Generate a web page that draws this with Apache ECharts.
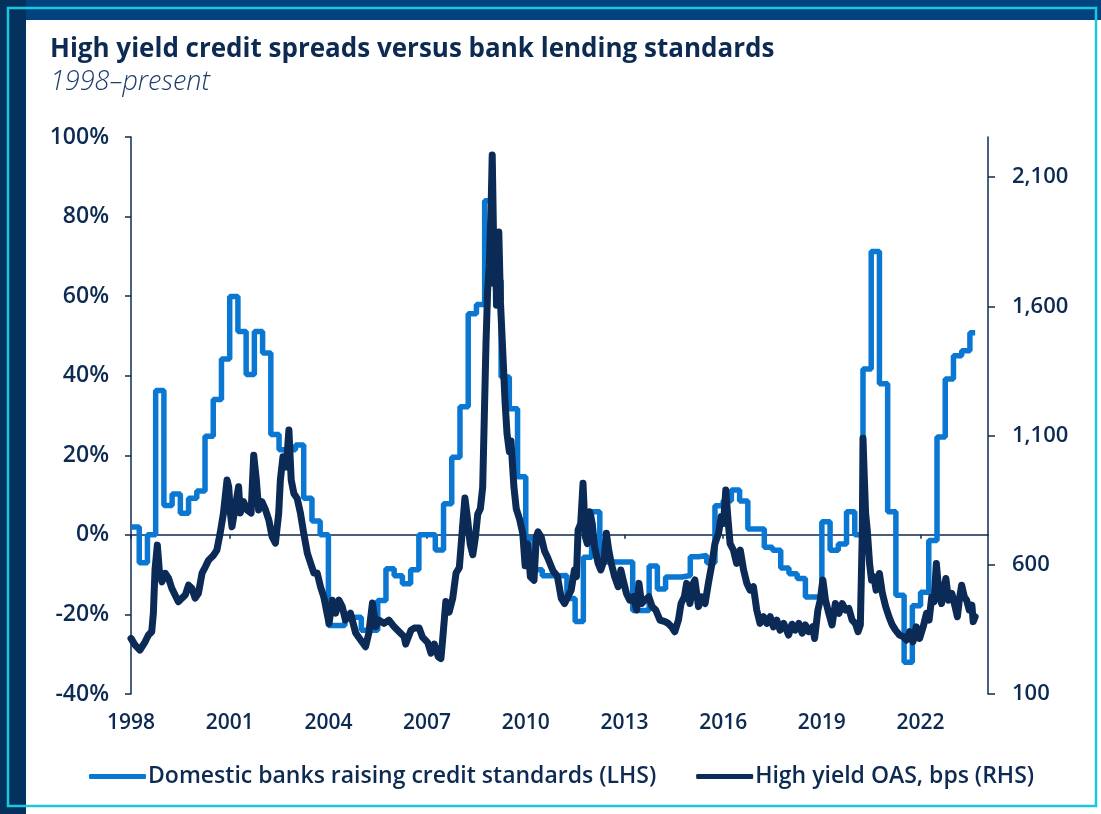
<!DOCTYPE html>
<html>
<head>
<meta charset="utf-8">
<title>High yield credit spreads versus bank lending standards</title>
<script src="https://cdn.jsdelivr.net/npm/echarts@6/dist/echarts.min.js"></script>
<style>
  html, body { margin: 0; padding: 0; background: #fff; }
  #main { width: 1101px; height: 814px; }
</style>
</head>
<body>
<div id="main"></div>
<script>
// tick positions
var yearTicks = [1998, 2001, 2004, 2007, 2010, 2013, 2016, 2019, 2022];
var oasTicks = [100, 600, 1100, 1600, 2100];

// net % of domestic banks tightening C&I standards, quarterly from 1998 Q1
var lendingStart = 1998;
var lendingValues = [
  2, -7, 0, 36.3, 7.4, 10.3, 5.4, 9.2,
  11, 24.8, 34, 44.2, 59.9, 51.1, 40.3, 51.1,
  45.7, 25.2, 21.4, 21.4, 22.6, 9.2, 3.5, 0,
  -22.8, -22.8, -20.7, -20.7, -24, -24, -16.5, -8.5,
  -10.3, -12.3, -8.8, 0, 0, -3.8, 7.8, 19.5,
  32.2, 55.6, 57.9, 84, 64, 39.7, 31.7, 14.6,
  -1, -8.8, -10.3, -10.3, -10.2, -16, -21.8, -5.6,
  5.8, -6.8, -6.8, -6.8, -6.8, -19, -19, -7.8,
  -13.6, -10.6, -10.6, -10.2, -5.5, -5.2, -7, 7.3,
  8.6, 11.3, 8.5, 1.5, 1.5, -3.1, -3.9, -8.3,
  -9.8, -11, -15.6, -15.6, 3.3, -3.9, -2.3, 5.8,
  0, 41.7, 71.2, 38, 5.8, -15.2, -32, -17.8,
  -14.4, -1.4, 24.6, 39.2, 45, 46.3, 50.8
];
var lendingEnd = 2023.66;

// high yield option-adjusted spread, bps
var oasDates = [
  1998.00, 1998.12, 1998.27, 1998.43, 1998.53, 1998.63, 1998.68, 1998.73, 1998.80, 1998.86, 1998.94,
  1999.04, 1999.14, 1999.24, 1999.34, 1999.44, 1999.55, 1999.65, 1999.75, 1999.85, 1999.95,
  2000.05, 2000.16, 2000.26, 2000.36, 2000.51, 2000.61, 2000.71, 2000.81, 2000.92, 2000.97,
  2001.02, 2001.07, 2001.17, 2001.27, 2001.32, 2001.42, 2001.53, 2001.65, 2001.73, 2001.81, 2001.88, 2001.98,
  2002.09, 2002.19, 2002.29, 2002.39, 2002.49, 2002.54, 2002.62, 2002.72, 2002.80, 2002.87, 2002.95,
  2003.05, 2003.15, 2003.25, 2003.36, 2003.46, 2003.56, 2003.66, 2003.76, 2003.86,
  2004.02, 2004.12, 2004.22, 2004.32, 2004.42, 2004.52, 2004.67, 2004.83, 2004.98,
  2005.13, 2005.23, 2005.34, 2005.44, 2005.54, 2005.69, 2005.84,
  2006.00, 2006.15, 2006.30, 2006.35, 2006.51, 2006.61, 2006.76, 2006.86,
  2007.02, 2007.12, 2007.22, 2007.34, 2007.42, 2007.47, 2007.57, 2007.67, 2007.78, 2007.88, 2007.98,
  2008.08, 2008.15, 2008.23, 2008.31, 2008.39, 2008.47, 2008.54, 2008.62, 2008.69, 2008.74,
  2008.79, 2008.84, 2008.89, 2008.95, 2008.98,
  2009.02, 2009.05, 2009.08, 2009.11, 2009.15, 2009.18, 2009.23, 2009.30, 2009.37, 2009.43,
  2009.50, 2009.55, 2009.64, 2009.71, 2009.81, 2009.91, 2009.98,
  2010.06, 2010.14, 2010.25, 2010.32, 2010.37, 2010.47, 2010.57, 2010.67, 2010.83, 2010.96,
  2011.08, 2011.18, 2011.28, 2011.38, 2011.48, 2011.54, 2011.59, 2011.67, 2011.74, 2011.81, 2011.87, 2011.94,
  2012.02, 2012.09, 2012.20, 2012.28, 2012.38, 2012.45, 2012.52, 2012.60, 2012.70, 2012.81, 2012.89, 2012.96,
  2013.06, 2013.16, 2013.27, 2013.37, 2013.44, 2013.52, 2013.62, 2013.74, 2013.84, 2013.95,
  2014.08, 2014.23, 2014.33, 2014.43, 2014.53, 2014.64, 2014.72, 2014.82, 2014.89, 2014.99,
  2015.09, 2015.14, 2015.25, 2015.35, 2015.45, 2015.55, 2015.66, 2015.75, 2015.86, 2015.94,
  2016.01, 2016.08, 2016.14, 2016.21, 2016.31, 2016.41, 2016.52, 2016.62, 2016.72, 2016.82, 2016.92,
  2017.02, 2017.12, 2017.23, 2017.33, 2017.43, 2017.53, 2017.63, 2017.73, 2017.84, 2017.99,
  2018.09, 2018.19, 2018.30, 2018.40, 2018.50, 2018.60, 2018.72, 2018.78, 2018.88, 2018.95,
  2019.03, 2019.11, 2019.21, 2019.31, 2019.41, 2019.52, 2019.62, 2019.72, 2019.82, 2019.92,
  2020.02, 2020.10, 2020.17, 2020.23, 2020.25, 2020.29, 2020.33, 2020.38, 2020.45, 2020.51,
  2020.58, 2020.65, 2020.75, 2020.84, 2020.94,
  2021.04, 2021.14, 2021.24, 2021.36, 2021.47, 2021.57, 2021.67, 2021.77, 2021.87, 2021.97,
  2022.08, 2022.18, 2022.26, 2022.34, 2022.41, 2022.48, 2022.56, 2022.64, 2022.72, 2022.77, 2022.85, 2022.95,
  2023.05, 2023.12, 2023.19, 2023.25, 2023.33, 2023.40, 2023.48, 2023.56, 2023.60, 2023.66
];
var oasValues = [
  315, 290, 270, 302, 328, 341, 413, 580, 676, 580, 534,
  567, 548, 509, 483, 457, 471, 483, 521, 509, 471,
  490, 568, 592, 618, 637, 657, 722, 800, 928, 902,
  800, 747, 824, 902, 800, 844, 812, 800, 1024, 928, 812, 844,
  812, 773, 708, 684, 800, 928, 1018, 979, 1121, 928, 876,
  857, 800, 722, 645, 606, 568, 568, 515, 476,
  373, 463, 413, 463, 438, 386, 413, 336, 309,
  283, 336, 452, 360, 386, 373, 386,
  360, 341, 322, 293, 347, 355, 355, 320,
  299, 258, 293, 244, 237, 306, 458, 417, 471, 568, 589,
  749, 858, 777, 680, 639, 708, 796, 817, 900, 1176,
  1453, 1660, 1756, 2005, 2185,
  1867, 1687, 1840, 1604, 1701, 1887, 1618, 1425, 1231, 1107,
  1038, 1079, 900, 817, 777, 720, 596,
  680, 554, 540, 707, 727, 707, 653, 626, 576, 556,
  470, 450, 476, 502, 580, 554, 734, 760, 915, 708, 682, 805,
  760, 670, 605, 580, 618, 722, 657, 605, 554, 515, 580, 541,
  489, 463, 476, 425, 528, 450, 463, 476, 438, 425,
  386, 380, 373, 360, 341, 386, 450, 476, 528, 450,
  528, 541, 438, 476, 450, 528, 605, 682, 722, 787,
  760, 889, 787, 682, 657, 605, 657, 580, 528, 502, 515,
  425, 373, 399, 373, 399, 360, 386, 347, 373, 328,
  370, 347, 373, 335, 367, 341, 360, 315, 425, 463,
  541, 463, 412, 367, 450, 412, 450, 425, 431, 386,
  373, 341, 367, 734, 1089, 940, 799, 734, 605, 541,
  554, 502, 566, 489, 438,
  399, 367, 347, 328, 322, 309, 341, 302, 360, 315,
  360, 412, 386, 476, 457, 605, 489, 450, 515, 547, 463, 489,
  438, 399, 476, 521, 476, 463, 425, 444, 380, 399
];

var navy = '#0c2a52';
var lightBlue = '#0a78d2';
var darkLine = '#0b2a55';
var fontName = '"Open Sans", sans-serif';

var lendingData = lendingValues.map(function (v, i) {
  return [lendingStart + i * 0.25, v];
});
lendingData.push([lendingEnd, lendingValues[lendingValues.length - 1]]);

var oasData = oasDates.map(function (d, i) {
  return [d, oasValues[i]];
});

function labelFont(size) {
  return { color: navy, fontFamily: fontName, fontWeight: 600, fontSize: size };
}

var myChart = echarts.init(document.getElementById('main'), null, { renderer: 'canvas' });

var option = {
  backgroundColor: '#ffffff',
  animation: false,
  textStyle: { fontFamily: fontName },
  title: {
    text: 'High yield credit spreads versus bank lending standards',
    subtext: '1998\u2013present',
    left: 45,
    top: 32,
    itemGap: 6,
    textStyle: { color: navy, fontFamily: fontName, fontWeight: 'bold', fontSize: 26 },
    subtextStyle: { color: '#1d3d6b', fontFamily: fontName, fontStyle: 'italic', fontWeight: 300, fontSize: 27 }
  },
  graphic: [
    { type: 'rect', shape: { x: 0, y: 0, width: 1101, height: 20 }, style: { fill: '#02437f' }, silent: true },
    { type: 'rect', shape: { x: 0, y: 0, width: 26, height: 814 }, style: { fill: '#03325f' }, silent: true },
    { type: 'rect', shape: { x: 8, y: 8, width: 1088, height: 798 }, style: { fill: null, stroke: '#1cc6dd', lineWidth: 2.5 }, silent: true }
  ],
  legend: {
    left: 84,
    top: 760,
    icon: 'roundRect',
    itemWidth: 57,
    itemHeight: 5,
    itemGap: 40,
    textStyle: { color: navy, fontFamily: fontName, fontWeight: 600, fontSize: 23, padding: [0, 0, 0, -3] },
    data: ['Domestic banks raising credit standards (LHS)', 'High yield OAS, bps (RHS)']
  },
  grid: { left: 131, right: 113, top: 137, bottom: 120, containLabel: false, outerBoundsMode: 'none' },
  xAxis: [
    {
      type: 'value', min: 1998, max: 2024.05, position: 'bottom',
      axisLine: { show: false }, axisTick: { show: false }, splitLine: { show: false },
      axisLabel: Object.assign({ customValues: yearTicks, margin: 19, formatter: function (v) { return String(v); } }, labelFont(21))
    },
    {
      type: 'value', min: 1998, max: 2024.05, position: 'top',
      axisLine: { show: true, onZero: true, onZeroAxisIndex: 0, lineStyle: { color: navy, width: 1.5 } },
      axisTick: { show: true, inside: true, length: 4, customValues: yearTicks, lineStyle: { color: navy, width: 1.5 } },
      axisLabel: { show: false }, splitLine: { show: false }
    }
  ],
  yAxis: [
    {
      type: 'value', min: -40, max: 100, interval: 20, position: 'left',
      axisLine: { show: true, lineStyle: { color: navy, width: 1.5 } },
      axisTick: { show: true, length: 6, lineStyle: { color: navy, width: 1.5 } },
      axisLabel: Object.assign({ margin: 22, formatter: '{value}%' }, labelFont(23)),
      splitLine: { show: false }
    },
    {
      type: 'value', min: 100, max: 2255, interval: 500, position: 'right', alignTicks: false,
      axisLine: { show: true, lineStyle: { color: navy, width: 1.5 } },
      axisTick: { show: true, length: 7, customValues: oasTicks, lineStyle: { color: navy, width: 1.5 } },
      axisLabel: Object.assign({
        margin: 24, customValues: oasTicks,
        formatter: function (v) { return Number(v).toLocaleString('en-US'); }
      }, labelFont(22)),
      splitLine: { show: false }
    }
  ],
  series: [
    {
      name: 'Domestic banks raising credit standards (LHS)',
      type: 'line', step: 'end', xAxisIndex: 0, yAxisIndex: 0,
      data: lendingData, symbol: 'none',
      lineStyle: { color: lightBlue, width: 5.5 }, itemStyle: { color: lightBlue }, z: 2
    },
    {
      name: 'High yield OAS, bps (RHS)',
      type: 'line', xAxisIndex: 0, yAxisIndex: 1,
      data: oasData, symbol: 'none',
      lineStyle: { color: darkLine, width: 7, join: 'round', cap: 'round' }, itemStyle: { color: darkLine }, z: 3
    }
  ]
};

myChart.setOption(option);
window.onresize = myChart.resize;
</script>
</body>
</html>
